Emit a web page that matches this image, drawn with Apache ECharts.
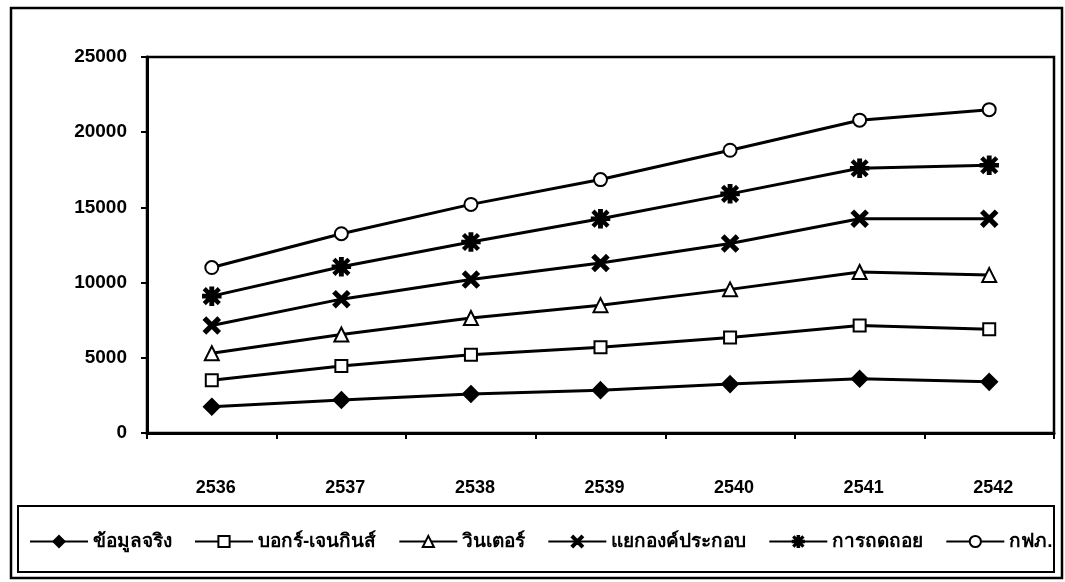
<!DOCTYPE html>
<html>
<head>
<meta charset="utf-8">
<script src="https://cdn.jsdelivr.net/npm/echarts@6/dist/echarts.min.js"></script>
<style>
  html, body { margin: 0; padding: 0; background: #fff; }
  #chart { width: 1065px; height: 582px; }
</style>
</head>
<body>
<div id="chart"></div>
<script>
// Years (B.E.)
const years = ['2536', '2537', '2538', '2539', '2540', '2541', '2542'];

// Series values
const actual     = [1750, 2200, 2600, 2850, 3250, 3600, 3400];   // ข้อมูลจริง
const boxJenkins = [3500, 4450, 5200, 5700, 6350, 7150, 6900];   // บอกร์-เจนกินส์
const winters    = [5300, 6550, 7650, 8500, 9550, 10700, 10500]; // วินเตอร์
const decomp     = [7150, 8900, 10200, 11300, 12600, 14250, 14250]; // แยกองค์ประกอบ
const regression = [9100, 11050, 12700, 14250, 15900, 17600, 17800]; // การถดถอย
const egat       = [11000, 13250, 15200, 16850, 18800, 20800, 21500]; // กฟภ.

const seriesNames = ['ข้อมูลจริง', 'บอกร์-เจนกินส์', 'วินเตอร์', 'แยกองค์ประกอบ', 'การถดถอย', 'กฟภ.'];

// Y-axis ticks
const yMin = 0, yMax = 25000, yStep = 5000;

// Marker shapes
const crossPath = 'path://M-8.5,-6.3 L-6.3,-8.5 L8.5,6.3 L6.3,8.5 Z M6.3,-8.5 L8.5,-6.3 L-6.3,8.5 L-8.5,6.3 Z';
const starPath = 'path://M-1.4,-10 L1.4,-10 L1.4,10 L-1.4,10 Z M-8.6,-7 L-7,-8.6 L8.6,7 L7,8.6 Z M7,-8.6 L8.6,-7 L-7,8.6 L-8.6,7 Z M-10,-1.2 L10,-1.2 L10,1.2 L-10,1.2 Z';

const markers = [
  { symbol: 'diamond', size: 15 },
  { symbol: 'emptyRect', size: 12 },
  { symbol: 'emptyTriangle', size: 14 },
  { symbol: crossPath, size: 15 },
  { symbol: starPath, size: 17 },
  { symbol: 'emptyCircle', size: 13 }
];
const values = [actual, boxJenkins, winters, decomp, regression, egat];

const FONT = '"Liberation Sans", Arial, sans-serif';

const chart = echarts.init(document.getElementById('chart'), null, { renderer: 'canvas' });

chart.setOption({
  backgroundColor: '#fff',
  animation: false,
  grid: {
    left: 147, right: 11, top: 57, bottom: 149,
    show: true, borderColor: '#000', borderWidth: 2.5, backgroundColor: 'transparent'
  },
  legend: {
    data: seriesNames,
    left: 24, top: 527,
    itemWidth: 58, itemHeight: 14, itemGap: 22,
    textStyle: { fontFamily: FONT, fontWeight: 'bold', fontSize: 19, color: '#000' }
  },
  xAxis: {
    type: 'category',
    data: years,
    boundaryGap: true,
    axisLine: { lineStyle: { color: '#000', width: 3 } },
    axisTick: { show: true, length: 6, lineStyle: { color: '#000', width: 2 } },
    axisLabel: { margin: 46, color: '#000', fontFamily: FONT, fontWeight: 'bold', fontSize: 18, padding: [0, 0, 0, 8] },
    splitLine: { show: false }
  },
  yAxis: {
    type: 'value',
    min: yMin, max: yMax, interval: yStep,
    axisLine: { show: true, lineStyle: { color: '#000', width: 3 } },
    axisTick: { show: true, length: 6, lineStyle: { color: '#000', width: 2 } },
    axisLabel: { margin: 20, color: '#000', fontFamily: FONT, fontWeight: 'bold', fontSize: 19,
                 formatter: v => String(v) },
    splitLine: { show: false }
  },
  graphic: [
    { type: 'rect', shape: { x: 11, y: 8, width: 1051, height: 570 },
      style: { fill: null, stroke: '#000', lineWidth: 2.5 }, silent: true, z: 100 },
    { type: 'rect', shape: { x: 18, y: 506, width: 1036, height: 66 },
      style: { fill: null, stroke: '#000', lineWidth: 2 }, silent: true, z: 100 }
  ],
  series: seriesNames.map((name, i) => ({
    name: name,
    type: 'line',
    data: values[i],
    symbol: markers[i].symbol,
    symbolSize: markers[i].size,
    showAllSymbol: true,
    lineStyle: { color: '#000', width: 3 },
    itemStyle: { color: '#000', borderColor: '#000', borderWidth: 2.5 },
    emphasis: { disabled: true }
  }))
});
</script>
</body>
</html>
